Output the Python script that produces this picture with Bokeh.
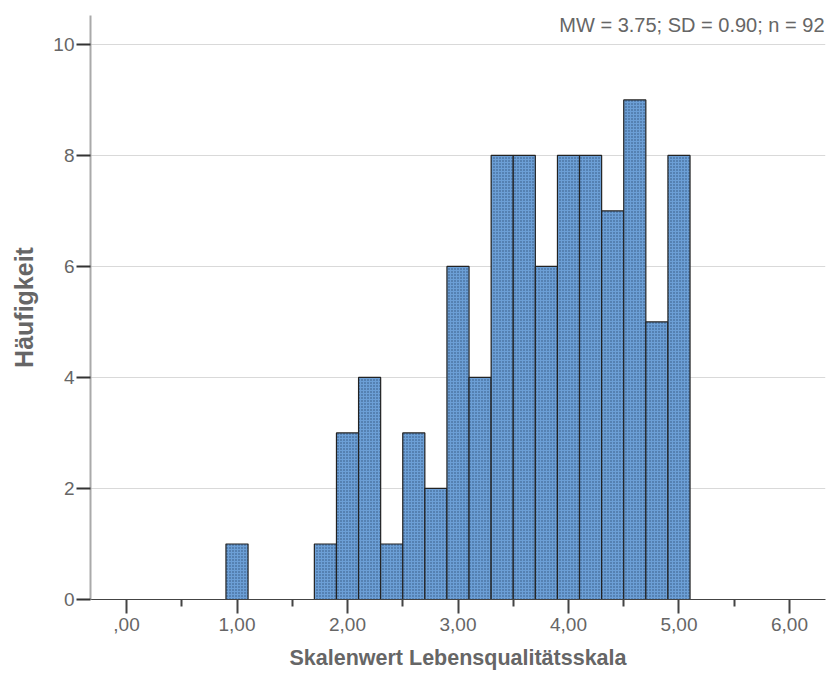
from bokeh.plotting import figure
from bokeh.models import Range1d, FixedTicker, Label
from bokeh.embed import file_html
from bokeh.resources import INLINE

# Histogram of the quality-of-life scale score (bin width 0.2)
bin_centers = [1.0, 1.8, 2.0, 2.2, 2.4, 2.6, 2.8, 3.0, 3.2, 3.4,
               3.6, 3.8, 4.0, 4.2, 4.4, 4.6, 4.8, 5.0]
counts = [1, 1, 3, 4, 1, 3, 2, 6, 4, 8,
          8, 6, 8, 8, 7, 9, 5, 8]
bin_width = 0.2

x_ticks = [0, 1, 2, 3, 4, 5, 6]
x_tick_labels = [",00", "1,00", "2,00", "3,00", "4,00", "5,00", "6,00"]
x_minor_ticks = [0.5, 1.5, 2.5, 3.5, 4.5, 5.5]
y_ticks = [0, 2, 4, 6, 8, 10]

stats_text = "MW = 3.75; SD = 0.90; n = 92"
x_title = "Skalenwert Lebensqualitätsskala"
y_title = "Häufigkeit"

FONT = "Liberation Sans"
GREY = "#666666"

X_MIN, X_MAX = -0.326, 6.326
Y_MAX = 10.52

p = figure(width=833, height=673, output_backend="svg", toolbar_location=None,
           x_range=Range1d(X_MIN, X_MAX), y_range=Range1d(0, Y_MAX),
           min_border_left=90, min_border_right=8, min_border_top=15,
           min_border_bottom=74)
p.outline_line_color = None
p.background_fill_color = "white"
p.border_fill_color = "white"

p.vbar(x=bin_centers, top=counts, bottom=0, width=bin_width,
       fill_color="#6c9fd6", line_color="#222222", line_width=1.2,
       hatch_pattern="dot", hatch_color="#1f3a60", hatch_scale=3,
       hatch_weight=1.5, hatch_alpha=0.75)

# summary statistics in the top right corner of the plot area
p.add_layout(Label(x=X_MAX, y=Y_MAX, x_offset=-1, y_offset=2, text=stats_text,
                   text_align="right", text_baseline="top",
                   text_font=FONT, text_font_size="20px", text_color=GREY))

# x axis
xa = p.xaxis[0]
xa.ticker = FixedTicker(ticks=x_ticks, minor_ticks=x_minor_ticks)
xa.major_label_overrides = {t: l for t, l in zip(x_ticks, x_tick_labels)}
xa.axis_line_color = "#444444"
xa.axis_line_width = 1
xa.major_tick_out = 14
xa.major_tick_in = 0
xa.major_tick_line_color = "#444444"
xa.major_tick_line_width = 2
xa.minor_tick_out = 7
xa.minor_tick_in = 0
xa.minor_tick_line_color = "#444444"
xa.minor_tick_line_width = 2
xa.major_label_text_font = FONT
xa.major_label_text_font_size = "19px"
xa.major_label_text_color = GREY
xa.major_label_standoff = 4
xa.axis_label = x_title
xa.axis_label_text_font = FONT
xa.axis_label_text_font_style = "bold"
xa.axis_label_text_font_size = "21.5px"
xa.axis_label_text_color = GREY
xa.axis_label_standoff = 12

# y axis
ya = p.yaxis[0]
ya.ticker = FixedTicker(ticks=y_ticks, minor_ticks=[])
ya.axis_line_color = "#aaaaaa"
ya.axis_line_width = 2
ya.major_tick_out = 14
ya.major_tick_in = 0
ya.major_tick_line_color = "#333333"
ya.major_tick_line_width = 2
ya.minor_tick_out = 0
ya.major_label_text_font = FONT
ya.major_label_text_font_size = "19px"
ya.major_label_text_color = GREY
ya.major_label_standoff = 2
ya.axis_label = y_title
ya.axis_label_text_font = FONT
ya.axis_label_text_font_style = "bold"
ya.axis_label_text_font_size = "25px"
ya.axis_label_text_color = GREY
ya.axis_label_standoff = 12

p.xgrid.grid_line_color = None
p.ygrid.ticker = FixedTicker(ticks=y_ticks[1:])
p.ygrid.grid_line_color = "#d9d9d9"
p.ygrid.grid_line_width = 1

open("out.html", "w").write(file_html(p, INLINE))
